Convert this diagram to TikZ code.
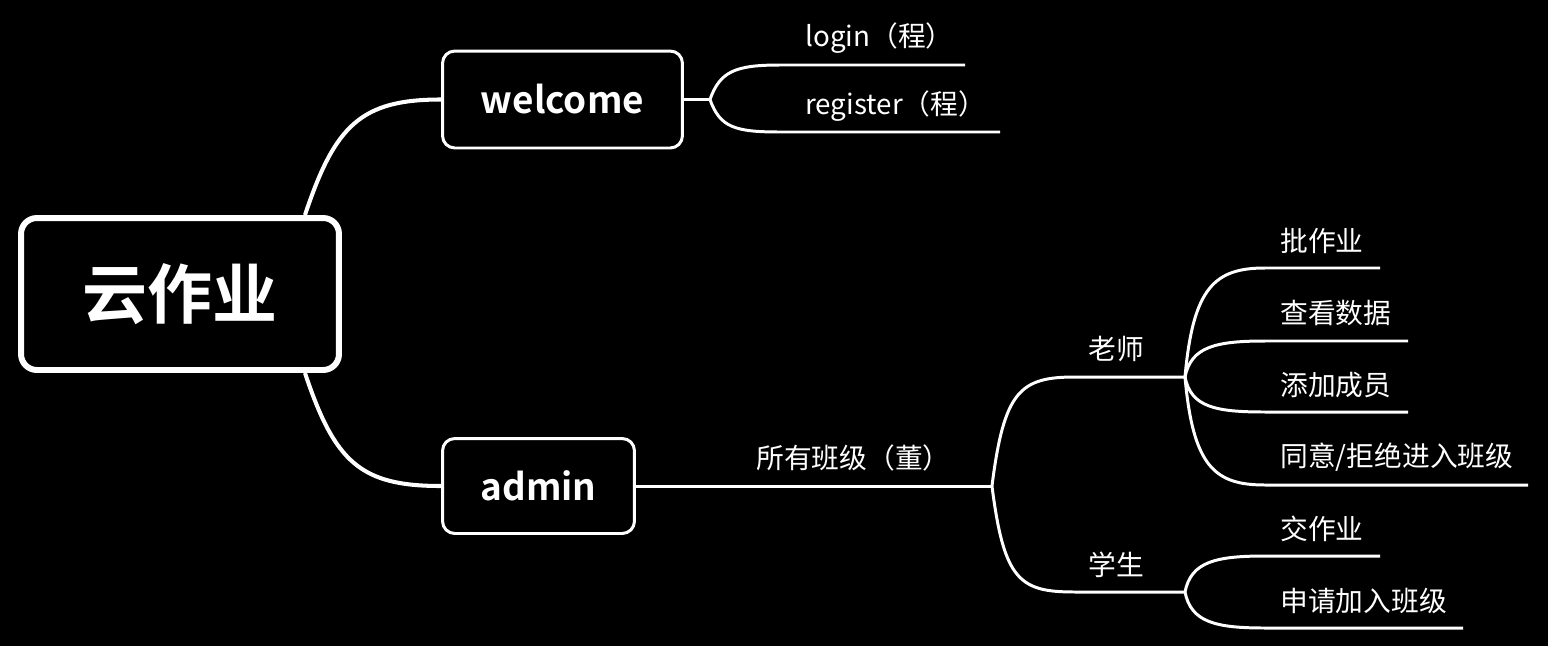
\documentclass[tikz,border=0pt]{standalone}
\usepackage{fontspec}
\setmainfont{Noto Sans CJK SC}[BoldFont={Noto Sans CJK SC Bold}]

\begin{document}
\begin{tikzpicture}[x=0.02cm,y=-0.02cm,color=white,
    hub/.style={draw=white,line width=3.4pt,rounded corners=9pt,fill=black,
        minimum width=6.36cm,minimum height=3.04cm,
        font=\bfseries\fontsize{37}{40}\selectfont},
    topic/.style={draw=white,line width=1.7pt,rounded corners=7pt,fill=black,
        font=\bfseries\fontsize{21}{24}\selectfont},
    leaf/.style={anchor=west,inner sep=0pt,font=\fontsize{15.8}{18}\selectfont},
    link/.style={line width=2.3pt},
    twig/.style={line width=1.7pt}]

% Fond
\fill[black] (0,0) rectangle (1548,646);
\useasboundingbox (0,0) rectangle (1548,646);

% Centre
\node[hub] (cloud) at (180,294) {云作业};

\node[topic,minimum width=4.8cm,minimum height=1.94cm] (welcome) at (562.5,99.5) {welcome};

\node[topic,minimum width=3.84cm,minimum height=1.9cm] (admin) at (538.5,486) {admin};

\draw[link] ([xshift=2.5cm]cloud.north) .. controls +(30,-90) and +(-80,0) .. (welcome.west);
\draw[link] ([xshift=2.5cm]cloud.south) .. controls +(30,90) and +(-80,0) .. (admin.west);

% welcome
\draw[twig] (welcome.east) -- ++(26,0) coordinate (wfork);

\node[leaf] (login) at (805,38)
{login（程）};

\node[leaf] (register) at (805,106)
{register（程）};

\draw[twig] (wfork) .. controls +(10,-28) and +(-45,0) .. (780,65) -- (965,65);
\draw[twig] (wfork) .. controls +(10,28) and +(-45,0) .. (780,132) -- (1000,132);

% admin
\draw[twig] (admin.east) -- ++(356,0) coordinate (afork);

\node[leaf] (classes) at (756,458)
{所有班级（董）};

\draw[twig] (afork) .. controls +(12,-95) and +(-55,0) .. (1075,377) -- (1185,377) coordinate (tfork);
\draw[twig] (afork) .. controls +(12,95) and +(-55,0) .. (1075,592) -- (1185,592) coordinate (sfork);

\node[leaf] (teacher) at (1088,349)
{老师};

\node[leaf] (student) at (1088,565)
{学生};

% Teacher
\draw[twig] (tfork) .. controls +(8,-90) and +(-50,0) .. (1265,268) -- (1380,268);
\draw[twig] (tfork) .. controls +(6,-30) and +(-50,0) .. (1265,341) -- (1408,341);
\draw[twig] (tfork) .. controls +(6,30) and +(-50,0) .. (1265,412) -- (1408,412);
\draw[twig] (tfork) .. controls +(8,90) and +(-50,0) .. (1265,485) -- (1528,485);

\node[leaf] (correct) at (1280,241)
{批作业};

\node[leaf] (data) at (1280,313)
{查看数据};

\node[leaf] (members) at (1280,385)
{添加成员};

\node[leaf] (approve) at (1280,457)
{同意/拒绝进入班级};

% Student
\draw[twig] (sfork) .. controls +(6,-30) and +(-50,0) .. (1265,556) -- (1380,556);
\draw[twig] (sfork) .. controls +(6,30) and +(-50,0) .. (1265,628) -- (1463,628);

\node[leaf] (submit) at (1280,529)
{交作业};

\node[leaf] (join) at (1280,601)
{申请加入班级};

\end{tikzpicture}
\end{document}
